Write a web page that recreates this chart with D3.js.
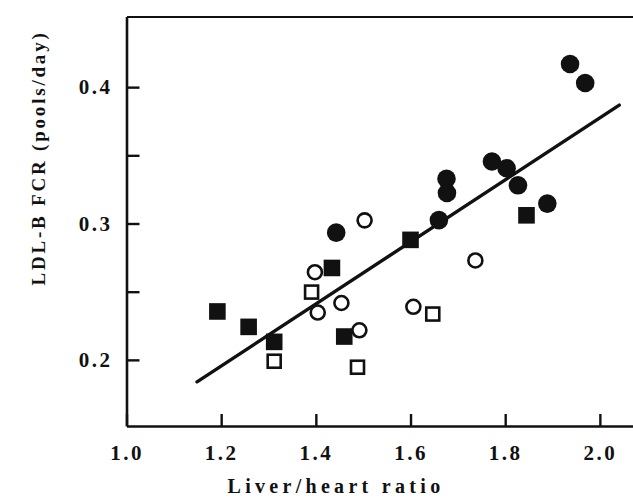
<!DOCTYPE html>
<html>
<head>
<meta charset="utf-8">
<script src="https://cdn.jsdelivr.net/npm/d3@7"></script>
<style>
  html, body { margin: 0; padding: 0; background: #fff; }
  svg text { font-family: "Liberation Serif", "Times New Roman", serif; font-weight: bold; fill: #111; }
</style>
</head>
<body>
<svg id="chart" width="633" height="500"></svg>
<script>
// ---- Data ----
const filledCircleX = [1.937, 1.969, 1.772, 1.803, 1.827, 1.889, 1.676, 1.677, 1.660, 1.443];
const filledCircleY = [0.417, 0.403, 0.3455, 0.3405, 0.328, 0.3146, 0.3328, 0.3224, 0.3025, 0.2933];

const openCircleX = [1.503, 1.737, 1.398, 1.454, 1.404, 1.606, 1.492];
const openCircleY = [0.3023, 0.2729, 0.2643, 0.2417, 0.2347, 0.2389, 0.2217];

const filledSquareX = [1.845, 1.600, 1.434, 1.192, 1.258, 1.312, 1.460];
const filledSquareY = [0.306, 0.288, 0.2674, 0.2355, 0.2242, 0.2132, 0.2171];

const openSquareX = [1.391, 1.647, 1.312, 1.488];
const openSquareY = [0.2497, 0.2336, 0.199, 0.1946];

const fitLineX = [1.149, 2.041];
const fitLineY = [0.1839, 0.3868];

const xTicks = [1.0, 1.2, 1.4, 1.6, 1.8, 2.0];
const xTickLabels = ["1.0", "1.2", "1.4", "1.6", "1.8", "2.0"];
const yTicks = [0.2, 0.25, 0.3, 0.35, 0.4];
const yTickLabels = ["0.2", "", "0.3", "", "0.4"];

const xTitle = "Liver/heart ratio";
const yTitle = "LDL-B FCR (pools/day)";

// ---- Scales ----
const svg = d3.select("#chart");
const x = d3.scaleLinear().domain([1.0, 2.07]).range([126.5, 633]);
const y = d3.scaleLinear().domain([0.1515, 0.4518]).range([426, 16.5]);

const ink = "#111";

// ---- Axes ----
const gx = svg.append("g").attr("transform", `translate(0,${y.range()[0]})`)
  .call(d3.axisBottom(x).tickValues(xTicks).tickSizeInner(-12).tickSizeOuter(0)
    .tickFormat((d, i) => xTickLabels[i]));
gx.select(".domain").attr("stroke", ink).attr("stroke-width", 2.6);
gx.selectAll(".tick line").attr("stroke", ink).attr("stroke-width", 2.4);
gx.selectAll(".tick text").attr("y", 34).attr("dy", 0)
  .style("font-size", "21px").style("letter-spacing", "2.5px").attr("fill", ink);

const gy = svg.append("g").attr("transform", `translate(${x.range()[0]},0)`)
  .call(d3.axisLeft(y).tickValues(yTicks).tickSizeInner(-13).tickSizeOuter(0).tickPadding(14)
    .tickFormat((d, i) => yTickLabels[i]));
gy.select(".domain").attr("stroke", ink).attr("stroke-width", 2.6);
gy.selectAll(".tick line").attr("stroke", ink).attr("stroke-width", 2.4);
gy.selectAll(".tick text").style("font-size", "21px").style("letter-spacing", "2.5px").attr("fill", ink);

const gt = svg.append("g").attr("transform", `translate(0,${y.range()[1]})`)
  .call(d3.axisTop(x).tickValues([]).tickSizeOuter(0));
gt.select(".domain").attr("stroke", ink).attr("stroke-width", 2.2);

// ---- Titles ----
svg.append("text")
  .attr("x", 336).attr("y", 493)
  .attr("text-anchor", "middle")
  .style("font-size", "20px").style("letter-spacing", "4.3px")
  .text(xTitle);

svg.append("text")
  .attr("transform", `translate(45,158) rotate(-90)`)
  .attr("text-anchor", "middle")
  .style("font-size", "19px").style("letter-spacing", "2.8px")
  .text(yTitle);

// ---- Regression line ----
svg.append("line")
  .attr("x1", x(fitLineX[0])).attr("y1", y(fitLineY[0]))
  .attr("x2", x(fitLineX[1])).attr("y2", y(fitLineY[1]))
  .attr("stroke", ink).attr("stroke-width", 3.4).attr("stroke-linecap", "round");

// ---- Markers ----
const zip = (xs, ys) => xs.map((v, i) => ({ x: v, y: ys[i] }));

svg.append("g").selectAll("circle.oc").data(zip(openCircleX, openCircleY)).join("circle")
  .attr("cx", d => x(d.x)).attr("cy", d => y(d.y)).attr("r", 7)
  .attr("fill", "#fff").attr("stroke", ink).attr("stroke-width", 2.6);

svg.append("g").selectAll("rect.os").data(zip(openSquareX, openSquareY)).join("rect")
  .attr("x", d => x(d.x) - 6.5).attr("y", d => y(d.y) - 6.5)
  .attr("width", 13).attr("height", 13)
  .attr("fill", "#fff").attr("stroke", ink).attr("stroke-width", 2.6);

svg.append("g").selectAll("rect.fs").data(zip(filledSquareX, filledSquareY)).join("rect")
  .attr("x", d => x(d.x) - 8.3).attr("y", d => y(d.y) - 8.3)
  .attr("width", 16.6).attr("height", 16.6)
  .attr("fill", ink);

svg.append("g").selectAll("circle.fc").data(zip(filledCircleX, filledCircleY)).join("circle")
  .attr("cx", d => x(d.x)).attr("cy", d => y(d.y)).attr("r", 9.3)
  .attr("fill", ink);
</script>
</body>
</html>
